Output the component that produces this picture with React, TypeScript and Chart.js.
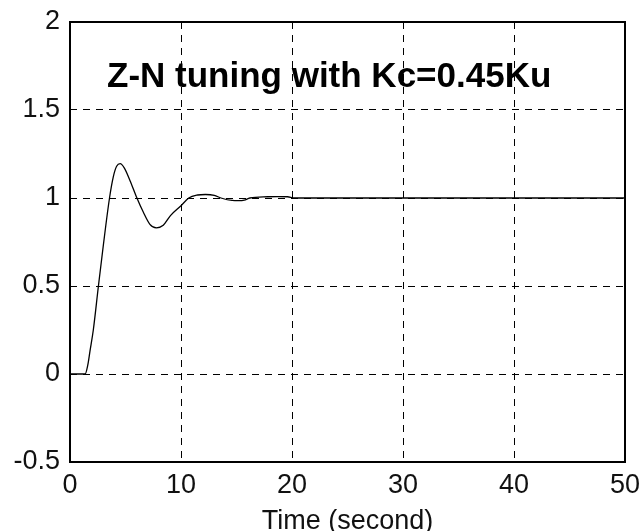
import React, { useEffect, useRef } from "react";
import { Chart, registerables } from "chart.js";

Chart.register(...registerables);

const timeSeconds = [0, 1.36, 1.6, 1.8, 2.1, 2.56, 3.0, 3.56, 3.9, 4.2, 4.52, 4.9, 5.4, 6.03, 6.6, 7.2, 7.78, 8.4, 9.05, 10, 10.7, 11.5, 12.2, 13, 13.6, 14.6, 15.2, 15.7, 16.2, 17.8, 18.7, 19.6, 20.2, 50];
const responseValues = [0, 0, 0.05, 0.13, 0.25, 0.5, 0.73, 1.0, 1.12, 1.18, 1.195, 1.17, 1.1, 1.0, 0.92, 0.85, 0.83, 0.845, 0.9, 0.956, 1.0, 1.017, 1.02, 1.015, 1.0, 0.986, 0.985, 0.988, 1.0, 1.007, 1.008, 1.007, 1.0, 1.0];
const xTickValues = [0, 10, 20, 30, 40, 50];
const yTickValues = [-0.5, 0, 0.5, 1, 1.5, 2];
const titleText = "Z-N tuning with Kc=0.45Ku";
const xAxisLabel = "Time (second)";

const FONT = "'Liberation Sans', Arial, Helvetica, sans-serif";

export default function App() {
  const ref = useRef<HTMLCanvasElement | null>(null);

  useEffect(() => {
    const canvas = ref.current;
    if (!canvas) return;

    const overlay = {
      id: "overlay",
      beforeDatasetsDraw(chart: any) {
        const { ctx, chartArea } = chart;
        ctx.save();
        ctx.fillStyle = "#000";
        ctx.font = `bold 35px ${FONT}`;
        ctx.textAlign = "left";
        ctx.textBaseline = "alphabetic";
        ctx.fillText(titleText, chartArea.left + 37, chartArea.top + 65);
        ctx.restore();
      },
      afterDraw(chart: any) {
        const { ctx, chartArea } = chart;
        ctx.save();
        ctx.strokeStyle = "#000";
        ctx.lineWidth = 2;
        ctx.setLineDash([]);
        ctx.strokeRect(chartArea.left, chartArea.top, chartArea.right - chartArea.left, chartArea.bottom - chartArea.top);
        ctx.fillStyle = "#111";
        ctx.font = `27px ${FONT}`;
        ctx.textAlign = "center";
        ctx.textBaseline = "alphabetic";
        ctx.fillText(xAxisLabel, (chartArea.left + chartArea.right) / 2, 529);
        ctx.restore();
      },
    };

    const chart = new Chart(canvas, {
      type: "scatter",
      data: {
        datasets: [
          {
            data: timeSeconds.map((t, i) => ({ x: t, y: responseValues[i] })),
            showLine: true,
            borderColor: "#000",
            borderWidth: 1.3,
            pointRadius: 0,
            cubicInterpolationMode: "monotone",
          },
        ],
      },
      options: {
        responsive: false,
        devicePixelRatio: 1,
        animation: false,
        layout: { padding: { top: 22, right: 17, left: 0, bottom: 0 } },
        plugins: { legend: { display: false }, tooltip: { enabled: false }, title: { display: false } },
        scales: {
          x: {
            type: "linear",
            min: 0,
            max: 50,
            afterFit: (s: any) => { s.height = 69; s.paddingLeft = 0; s.paddingRight = 0; },
            afterBuildTicks: (s: any) => { s.ticks = xTickValues.map((v) => ({ value: v })); },
            ticks: {
              callback: (v: any) => String(v),
              font: { family: FONT, size: 27 },
              color: "#111",
              padding: 7,
              maxRotation: 0,
            },
            grid: { color: "#000", lineWidth: 1, drawTicks: false },
            border: { display: false, dash: [7, 6] },
          },
          y: {
            type: "linear",
            min: -0.5,
            max: 2,
            afterFit: (s: any) => { s.width = 70; s.paddingTop = 0; s.paddingBottom = 0; },
            afterBuildTicks: (s: any) => { s.ticks = yTickValues.map((v) => ({ value: v })); },
            ticks: {
              callback: (v: any) => String(v),
              font: { family: FONT, size: 27 },
              color: "#111",
              padding: 10,
            },
            grid: { color: "#000", lineWidth: 1, drawTicks: false },
            border: { display: false, dash: [7, 6] },
          },
        },
      },
      plugins: [overlay],
    } as any);

    return () => chart.destroy();
  }, []);

  return (
    <div style={{ position: "absolute", left: 0, top: 0, width: 642, height: 531, background: "#fff" }}>
      <canvas ref={ref} width={642} height={531} style={{ display: "block" }} />
    </div>
  );
}
